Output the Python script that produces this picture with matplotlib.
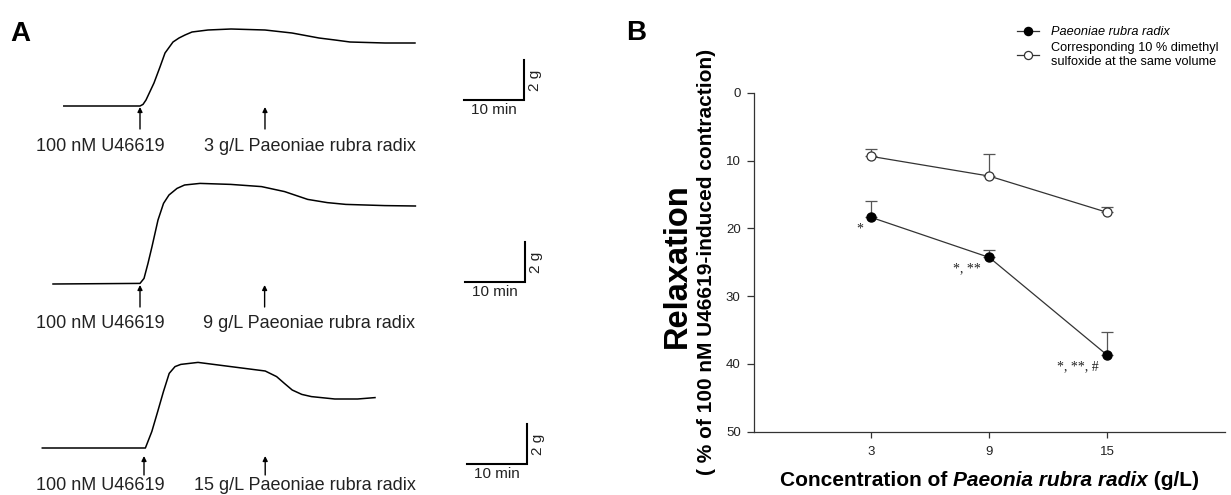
import matplotlib
matplotlib.use('Agg')
import matplotlib.pyplot as plt

plt.rcParams['font.family'] = ['Liberation Sans', 'DejaVu Sans']

W, H, DPI = 1231, 495, 100

# ---------------- Panel A data (time after U46619, min ; tension above baseline, g)
trace1_t = [-12.7, 0, 0.5, 1.0, 2.33, 3.33, 4.17, 5.5, 6.5, 7.5, 8.67, 11.33, 15.17, 20.83,
            25.33, 29.83, 32.5, 35.0, 40.83, 45.83]
trace1_g = [0, 0, 0.08, 0.3, 1.15, 1.95, 2.65, 3.2, 3.4, 3.55, 3.7, 3.8, 3.85, 3.8,
            3.65, 3.4, 3.3, 3.2, 3.15, 3.15]
trace2_t = [-14.5, 0, 0.67, 1.33, 2.0, 3.0, 3.92, 4.83, 6.17, 7.43, 10.0, 15.13, 20.25,
            24.1, 27.95, 31.2, 34.3, 40.8, 45.9]
trace2_g = [0, 0.03, 0.28, 1.03, 1.87, 3.2, 4.03, 4.45, 4.78, 4.95, 5.03, 4.98, 4.87,
            4.62, 4.23, 4.07, 3.98, 3.92, 3.9]
trace3_t = [-16.95, 0.23, 1.3, 2.28, 3.24, 4.2, 5.17, 6.13, 9.0, 14.46, 20.2, 22.1,
            23.4, 24.7, 26.3, 27.9, 31.8, 35.6, 38.5]
trace3_g = [0, 0, 0.82, 1.82, 2.82, 3.73, 4.07, 4.18, 4.28, 4.07, 3.85, 3.57,
            3.23, 2.9, 2.68, 2.57, 2.45, 2.45, 2.52]
extract_time = [20.83, 20.77, 20.2]          # min, second arrow
doses = ['3 g/L Paeoniae rubra radix', '9 g/L Paeoniae rubra radix',
         '15 g/L Paeoniae rubra radix']
agonist_label = '100 nM U46619'
scale_min = 10
scale_g = 2

# ---------------- Panel B data
conc = [3, 9, 15]
prr_mean = [18.4, 24.3, 38.7]
prr_sem = [2.4, 1.1, 3.4]
dmso_mean = [9.4, 12.3, 17.65]
dmso_sem = [1.1, 3.2, 0.75]
sig_labels = ['*', '*, **', '*, **, #']
yticks = [0, 10, 20, 30, 40, 50]

fig = plt.figure(figsize=(W / DPI, H / DPI), dpi=DPI)

def fx(px):
    return px / W

def fy(py):
    return 1 - py / H

# ---------------- Panel A
PX_MIN = 6.0   # pixels per minute
PX_G = 20.0    # pixels per gram
rows = [
    dict(top=0, bot=165, xa=140, yb=106, ly=147, l1=36, l2=204, ar=(107, 129), sb=(524, 100)),
    dict(top=165, bot=330, xa=140, yb=284, ly=323, l1=36, l2=203, ar=(285, 307), sb=(525, 282)),
    dict(top=330, bot=495, xa=144, yb=448, ly=485, l1=36, l2=194, ar=(456, 475), sb=(527, 464)),
]
traces = [(trace1_t, trace1_g), (trace2_t, trace2_g), (trace3_t, trace3_g)]

for r, (tt, gg), t2, dose in zip(rows, traces, extract_time, doses):
    left, right = 0, 620
    ax = fig.add_axes([fx(left), fy(r['bot']), fx(right - left), (r['bot'] - r['top']) / H])
    ax.set_xlim((left - r['xa']) / PX_MIN, (right - r['xa']) / PX_MIN)
    ax.set_ylim((r['yb'] - r['bot']) / PX_G, (r['yb'] - r['top']) / PX_G)
    ax.axis('off')
    ax.plot(tt, gg, color='black', lw=1.1, solid_joinstyle='round')
    a_top = (r['yb'] - r['ar'][0]) / PX_G
    a_bot = (r['yb'] - r['ar'][1]) / PX_G
    for t in (0, t2):
        ax.annotate('', xy=(t, a_top), xytext=(t, a_bot),
                    arrowprops=dict(arrowstyle='-|>', color='black', lw=1.0,
                                    mutation_scale=7, shrinkA=0, shrinkB=0))
    ly = (r['yb'] - r['ly']) / PX_G
    ax.text((r['l1'] - r['xa']) / PX_MIN, ly, agonist_label, fontsize=13,
            ha='left', va='center', color='#222222', clip_on=False)
    ax.text((r['l2'] - r['xa']) / PX_MIN, ly, dose, fontsize=13,
            ha='left', va='center', color='#222222', clip_on=False)
    sx = (r['sb'][0] - r['xa']) / PX_MIN
    sy = (r['yb'] - r['sb'][1]) / PX_G
    ax.plot([sx - scale_min, sx, sx], [sy, sy, sy + scale_g], color='black', lw=1.5,
            solid_joinstyle='miter', clip_on=False)
    ax.text(sx - scale_min / 2, sy - 0.15, f'{scale_min} min', fontsize=11,
            ha='center', va='top', color='#222222')
    ax.text(sx + 0.7, sy + scale_g / 2, f'{scale_g} g', fontsize=11, rotation=90,
            ha='left', va='center', color='#222222')

fig.text(fx(10), fy(41), 'A', fontsize=20, fontweight='bold', ha='left', va='baseline')
fig.text(fx(626), fy(40), 'B', fontsize=20, fontweight='bold', ha='left', va='baseline')

# ---------------- Panel B
axL, axR, axT, axB = 753.6, 1225, 92.7, 431.7
axb = fig.add_axes([fx(axL), fy(axB), fx(axR - axL), (axB - axT) / H])
line_col = '#333333'
ln1, = axb.plot(conc, prr_mean, color=line_col, lw=0.9, marker='o', ms=6.5,
                mfc='black', mec='black', zorder=3)
ln2, = axb.plot(conc, dmso_mean, color=line_col, lw=0.9, marker='o', ms=6.5,
                mfc='white', mec='#333333', mew=0.9, zorder=3)
zeros = [0, 0, 0]
axb.errorbar(conc, prr_mean, yerr=[prr_sem, zeros], fmt='none', ecolor='#555555',
             elinewidth=0.9, capsize=4, capthick=0.9, zorder=2)
axb.errorbar(conc, dmso_mean, yerr=[dmso_sem, zeros], fmt='none', ecolor='#555555',
             elinewidth=0.9, capsize=4, capthick=0.9, zorder=2)
for x, y, s in zip(conc, prr_mean, sig_labels):
    axb.annotate(s, xy=(x, y), xytext=(-6, -8), textcoords='offset points',
                 ha='right', va='center', fontsize=10, family='Liberation Serif',
                 color='#222222')
axb.set_xlim(-3, 21)
axb.set_ylim(50, 0)
axb.set_xticks(conc)
axb.set_yticks(yticks)
axb.tick_params(axis='y', direction='out', length=5, width=0.9, labelsize=9.5, pad=4.3,
                colors='#333333', labelcolor='#222222')
axb.tick_params(axis='x', direction='out', length=4, width=0.9, labelsize=9.5, pad=6.5,
                colors='#333333', labelcolor='#222222')
for s in ('top', 'right'):
    axb.spines[s].set_visible(False)
for s in ('left', 'bottom'):
    axb.spines[s].set_linewidth(0.9)
    axb.spines[s].set_color('#333333')

fig.text(fx(677), fy(266), 'Relaxation', fontsize=23.5, fontweight='bold', rotation=90,
         ha='center', va='center')
fig.text(fx(707), fy(262), '( % of 100 nM U46619-induced contraction)', fontsize=15,
         fontweight='bold', rotation=90, ha='center', va='center')

renderer = fig.canvas.get_renderer()
pieces = [('Concentration of ', 'normal'), ('Paeonia rubra radix', 'italic'),
          (' (g/L)', 'normal')]
tx = [fig.text(0, fy(481), s, fontsize=15, fontweight='bold', fontstyle=st,
               ha='left', va='center') for s, st in pieces]
widths = [t.get_window_extent(renderer).width for t in tx]
x0 = (axL + axR) / 2 - sum(widths) / 2
for t, w in zip(tx, widths):
    t.set_x(fx(x0))
    x0 += w

leg = fig.legend([ln1, ln2], ['Paeoniae rubra radix',
                              'Corresponding 10 % dimethyl\nsulfoxide at the same volume'],
                 loc='upper left', bbox_to_anchor=(fx(1017), fy(26)), frameon=False,
                 fontsize=9.2, handlelength=1.75, handletextpad=0.9, borderpad=0,
                 borderaxespad=0, labelspacing=0.3, markerscale=0.9)
leg.get_texts()[0].set_fontstyle('italic')

fig.savefig('out.png', dpi=DPI)
